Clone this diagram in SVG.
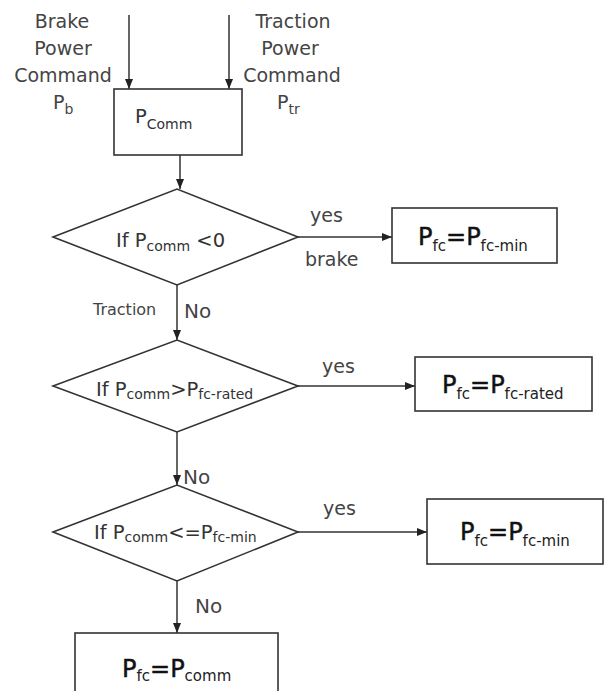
<svg xmlns="http://www.w3.org/2000/svg" width="606" height="691" viewBox="0 0 606 691">
<defs>
<marker id="ah" viewBox="0 0 10 10" refX="10" refY="5" markerWidth="10" markerHeight="10" markerUnits="userSpaceOnUse" orient="auto">
<path d="M0,1 L10,5 L0,9 Z" fill="#222"/>
</marker>
<style>
.shape{fill:#fff;stroke:#333;stroke-width:1.6}
.conn{stroke:#333;stroke-width:1.5;fill:none;marker-end:url(#ah)}
text{font-family:"DejaVu Sans","Verdana",sans-serif;fill:#333}
.lbl{font-size:19px;fill:#444}
.cond{font-size:19.5px;fill:#333}
.res{font-size:24px;fill:#111;stroke:#111;stroke-width:0.5}
.sub{font-size:14px}
.rsub{font-size:15px;stroke:none;fill:#222}
</style>
</defs>
<rect width="606" height="691" fill="#fff"/>

<g id="connectors">
<line class="conn" x1="129" y1="15" x2="129" y2="89"/>
<line class="conn" x1="229" y1="15" x2="229" y2="89"/>
<line class="conn" x1="180" y1="155" x2="180" y2="189"/>
<line class="conn" x1="298" y1="237" x2="392" y2="237"/>
<line class="conn" x1="177" y1="285" x2="177" y2="340"/>
<line class="conn" x1="298" y1="386" x2="415" y2="386"/>
<line class="conn" x1="177" y1="432" x2="177" y2="485"/>
<line class="conn" x1="298" y1="532" x2="427" y2="532"/>
<line class="conn" x1="177" y1="581" x2="177" y2="633"/>
</g>

<g id="input-brake">
<text class="lbl" text-anchor="middle" x="62" y="28">Brake</text>
<text class="lbl" text-anchor="middle" x="63" y="55">Power</text>
<text class="lbl" text-anchor="middle" x="63" y="82">Command</text>
<text class="lbl" x="53" y="109">P<tspan class="sub" dy="5">b</tspan></text>
</g>

<g id="input-traction">
<text class="lbl" text-anchor="middle" x="293" y="28">Traction</text>
<text class="lbl" text-anchor="middle" x="290" y="55">Power</text>
<text class="lbl" text-anchor="middle" x="292" y="82">Command</text>
<text class="lbl" x="277" y="109">P<tspan class="sub" dy="5">tr</tspan></text>
</g>

<g id="pcomm">
<rect class="shape" x="114" y="89" width="128" height="66"/>
<text class="cond" x="135" y="123">P<tspan class="sub" dy="6">Comm</tspan></text>
</g>

<g id="decision1">
<polygon class="shape" points="53,237 177,189 298,237 177,285"/>
<text class="cond" x="116" y="247">If P<tspan class="sub" dy="4">comm</tspan><tspan dy="-4"> &lt;0</tspan></text>
</g>

<g id="result1">
<rect class="shape" x="392" y="208" width="165" height="55"/>
<text class="res" x="418" y="245">P<tspan class="rsub" dy="6">fc</tspan><tspan dy="-6">=P</tspan><tspan class="rsub" dy="6">fc-min</tspan></text>
</g>

<g id="decision2">
<polygon class="shape" points="53,386 177,340 298,386 177,432"/>
<text class="cond" x="96" y="396">If P<tspan class="sub" dy="3">comm</tspan><tspan dy="-3">&gt;P</tspan><tspan class="sub" dy="3">fc-rated</tspan></text>
</g>

<g id="result2">
<rect class="shape" x="415" y="357" width="177" height="54"/>
<text class="res" x="442" y="393">P<tspan class="rsub" dy="6">fc</tspan><tspan dy="-6">=P</tspan><tspan class="rsub" dy="6">fc-rated</tspan></text>
</g>

<g id="decision3">
<polygon class="shape" points="53,532 177,485 298,532 177,581"/>
<text class="cond" x="94" y="539">If P<tspan class="sub" dy="3">comm</tspan><tspan dy="-3">&lt;=P</tspan><tspan class="sub" dy="3">fc-min</tspan></text>
</g>

<g id="result3">
<rect class="shape" x="427" y="499" width="176" height="65"/>
<text class="res" x="460" y="540">P<tspan class="rsub" dy="6">fc</tspan><tspan dy="-6">=P</tspan><tspan class="rsub" dy="6">fc-min</tspan></text>
</g>

<g id="result4">
<rect class="shape" x="75" y="633" width="203" height="70"/>
<text class="res" x="122" y="677">P<tspan class="rsub" dy="4">fc</tspan><tspan dy="-4">=P</tspan><tspan class="rsub" dy="4">comm</tspan></text>
</g>

<g id="edge-labels">
<text class="lbl" x="310" y="222">yes</text>
<text class="lbl" x="305" y="266">brake</text>
<text class="lbl" x="93" y="315" style="font-size:16px">Traction</text>
<text class="lbl" x="184" y="318" style="font-size:20px">No</text>
<text class="lbl" x="322" y="373">yes</text>
<text class="lbl" x="183" y="484" style="font-size:20px">No</text>
<text class="lbl" x="323" y="515">yes</text>
<text class="lbl" x="195" y="613" style="font-size:20px">No</text>
</g>
</svg>
